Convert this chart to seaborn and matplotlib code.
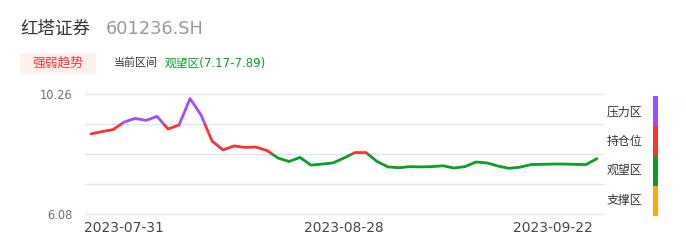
import numpy as np
import pandas as pd
import matplotlib
matplotlib.use("Agg")
import matplotlib.pyplot as plt
import seaborn as sns
from matplotlib.patches import Rectangle

# ---------------- data ----------------
dates = ["2023-07-26", "2023-07-27", "2023-07-28", "2023-07-31", "2023-08-01",
         "2023-08-02", "2023-08-03", "2023-08-04", "2023-08-07", "2023-08-08",
         "2023-08-09", "2023-08-10", "2023-08-11", "2023-08-14", "2023-08-15",
         "2023-08-16", "2023-08-17", "2023-08-18", "2023-08-21", "2023-08-22",
         "2023-08-23", "2023-08-24", "2023-08-25", "2023-08-28", "2023-08-29",
         "2023-08-30", "2023-08-31", "2023-09-01", "2023-09-04", "2023-09-05",
         "2023-09-06", "2023-09-07", "2023-09-08", "2023-09-11", "2023-09-12",
         "2023-09-13", "2023-09-14", "2023-09-15", "2023-09-18", "2023-09-19",
         "2023-09-20", "2023-09-21", "2023-09-22", "2023-09-25", "2023-09-26",
         "2023-09-27", "2023-09-28"]
prices = [8.87, 8.95, 9.02, 9.28, 9.41, 9.34, 9.48, 9.04, 9.18, 10.10,
          9.53, 8.62, 8.31, 8.45, 8.40, 8.41, 8.29, 8.03, 7.91, 8.05,
          7.78, 7.82, 7.86, 8.03, 8.22, 8.22, 7.91, 7.72, 7.69, 7.73,
          7.72, 7.73, 7.76, 7.68, 7.73, 7.89, 7.86, 7.75, 7.67, 7.71,
          7.80, 7.81, 7.82, 7.82, 7.81, 7.80, 8.01]
xtick_labels = ["2023-07-31", "2023-08-28", "2023-09-22"]
grid_levels = [6.08, 7.125, 8.17, 9.215, 10.26]
ytick_labels = ["6.08", "", "", "", "10.26"]
zone_names = ["压力区", "持仓位", "观望区", "支撑区"]
zone_colors = ["#a04dff", "#ff3232", "#0a9e28", "#ffaa00"]
title_name = "红塔证券"
title_code = "601236.SH"
badge_text = "强弱趋势"
range_label = "当前区间"
range_value = "观望区(7.17-7.89)"

# ---------------- figure ----------------
sns.set_theme(style="white")
plt.rcParams["font.family"] = ["DejaVu Sans", "Noto Sans CJK SC"]

W, H = 686, 247
fig = plt.figure(figsize=(W / 100, H / 100), dpi=100)

def fx(px):
    return px / W

def fy(py):
    return 1 - py / H

ax = fig.add_axes([fx(85), fy(214), fx(603) - fx(85), fy(94) - fy(214)])

df = pd.DataFrame({"idx": np.arange(len(dates)), "date": dates, "price": prices})

# zone bands (top to bottom) for line colouring
bands = [(grid_levels[3], 100.0), (grid_levels[2], grid_levels[3]),
         (-100.0, grid_levels[2])]
band_colors = zone_colors[:3]

for (lo, hi), c in zip(bands, band_colors):
    n_before = len(ax.lines)
    sns.lineplot(data=df, x="idx", y="price", ax=ax, color=c, linewidth=2.0,
                 legend=False, estimator=None, sort=False)
    line = ax.lines[n_before]
    rect = Rectangle((-10, lo), 200, hi - lo, transform=ax.transData,
                     facecolor="none", edgecolor="none")
    ax.add_patch(rect)
    line.set_clip_path(rect)
    line.set_solid_capstyle("round")
    line.set_solid_joinstyle("round")

ax.set_xlim(-0.55, len(dates) - 1 + 0.55)
ax.set_ylim(grid_levels[0], grid_levels[-1])
for g in grid_levels:
    ax.axhline(g, color="#e0e6f1", linewidth=1.0, zorder=0, clip_on=False)

ax.set_yticks(grid_levels)
ax.set_yticklabels(ytick_labels)
ax.tick_params(axis="y", length=0, pad=9, labelsize=8.3, labelcolor="#6e7079")

xt = [dates.index(d) for d in xtick_labels]
ax.set_xticks(xt)
ax.set_xticklabels(xtick_labels)
ax.tick_params(axis="x", length=0, pad=5, labelsize=9.9, labelcolor="#464646")

ax.set_xlabel("")
ax.set_ylabel("")
for s in ax.spines.values():
    s.set_visible(False)
ax.grid(False)

# ---------------- header texts ----------------
fig.text(fx(20), fy(28.5), title_name, fontsize=12.6, color="#333333",
         va="center", ha="left")
fig.text(fx(106), fy(28.5), title_code, fontsize=12.8, color="#999999",
         va="center", ha="left")

fig.patches.append(Rectangle((fx(20), fy(74)), fx(96) - fx(20), fy(53) - fy(74),
                             transform=fig.transFigure, facecolor="#fff1ee",
                             edgecolor="none"))
fig.text(fx(58), fy(63.5), badge_text, fontsize=9.2, color="#ff3333",
         va="center", ha="center")
fig.text(fx(114), fy(63), range_label, fontsize=7.9, color="#333333",
         va="center", ha="left")
fig.text(fx(165), fy(63), range_value, fontsize=8.5, color="#0a9e28",
         va="center", ha="left")

# ---------------- zone legend bar ----------------
bax = fig.add_axes([fx(653), fy(215.5), fx(658) - fx(653), fy(96) - fy(215.5)])
zdf = pd.DataFrame({"zone": zone_names, "size": [1, 1, 1, 1]})
bottoms = np.cumsum([0] + list(zdf["size"][::-1]))[:-1]
for (name, sz), b, c in zip(zip(zdf["zone"][::-1], zdf["size"][::-1]), bottoms,
                            zone_colors[::-1]):
    bax.bar(0, sz, bottom=b, color=c, width=1.0, edgecolor="none")
bax.set_xlim(-0.5, 0.5)
bax.set_ylim(0, 4)
bax.axis("off")

label_y = [111.7, 141, 170.7, 200.7]
for name, yy in zip(zone_names, label_y):
    fig.text(fx(607), fy(yy), name, fontsize=8.6, color="#333333",
             va="center", ha="left")

fig.savefig("out.png", dpi=100)
